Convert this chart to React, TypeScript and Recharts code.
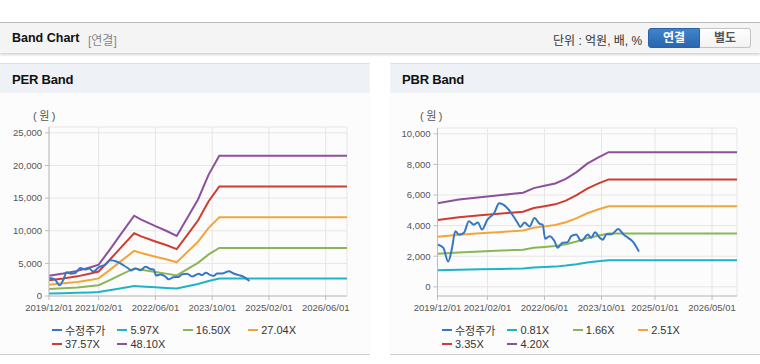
import React from "react";
import { LineChart, Line, XAxis, YAxis, CartesianGrid } from "recharts";

// months counted from 2019/12
const perBandMonths = [0, 4, 8, 12, 14, 17, 20, 24, 26, 30, 33, 36, 39, 42, 45, 48, 84];
const per597 = [380, 430, 480, 550, 600, 870, 1150, 1530, 1450, 1330, 1240, 1140, 1490, 1840, 2310, 2670, 2670];
const per1650 = [1060, 1180, 1320, 1530, 1650, 2400, 3190, 4220, 4010, 3670, 3430, 3160, 4120, 5080, 6380, 7370, 7370];
const per2704 = [1740, 1940, 2160, 2500, 2700, 3930, 5230, 6910, 6580, 6010, 5620, 5170, 6740, 8320, 10450, 12080, 12080];
const per3757 = [2420, 2690, 3010, 3480, 3750, 5470, 7260, 9610, 9140, 8360, 7810, 7190, 9370, 11560, 14530, 16790, 16790];
const per4810 = [3100, 3450, 3850, 4450, 4800, 7000, 9300, 12300, 11700, 10700, 10000, 9200, 12000, 14800, 18600, 21500, 21500];
const perBandNames = ["5.97X", "16.50X", "27.04X", "37.57X", "48.10X"];
const perTickMonths = [0, 14, 30, 46, 62, 78];
const perTickLabels = ["2019/12/01", "2021/02/01", "2022/06/01", "2023/10/01", "2025/02/01", "2026/06/01"];
const perYTicks = [0, 5000, 10000, 15000, 20000, 25000];

const pbrBandMonths = [0, 6, 12, 18, 24, 27, 30, 33, 36, 39, 42, 45, 48, 84];
const pbr081 = [1090, 1120, 1150, 1170, 1200, 1260, 1290, 1320, 1390, 1480, 1590, 1670, 1740, 1740];
const pbr166 = [2160, 2250, 2310, 2370, 2430, 2550, 2610, 2670, 2780, 2960, 3180, 3340, 3480, 3480];
const pbr251 = [3270, 3410, 3500, 3590, 3680, 3860, 3950, 4040, 4220, 4490, 4810, 5050, 5260, 5260];
const pbr335 = [4360, 4550, 4670, 4790, 4910, 5150, 5270, 5390, 5630, 5990, 6420, 6740, 7020, 7020];
const pbr420 = [5460, 5700, 5850, 6000, 6150, 6450, 6600, 6750, 7050, 7500, 8050, 8450, 8800, 8800];
const pbrBandNames = ["0.81X", "1.66X", "2.51X", "3.35X", "4.20X"];
const pbrTickMonths = [0, 14, 30, 46, 61, 77];
const pbrTickLabels = ["2019/12/01", "2021/02/01", "2022/06/01", "2023/10/01", "2025/01/01", "2026/05/01"];
const pbrYTicks = [0, 2000, 4000, 6000, 8000, 10000];

const priceMonths = [0, 1.6, 3, 4, 5, 6, 7.4, 8.8, 10.2, 11.3, 12.5, 14, 15.9, 17.3, 19.2, 21, 22.5, 23.2, 24.4, 25.8, 27.2, 28.6, 29.5, 30.2, 31.4, 32.8, 33.7, 35.1, 36.5, 37.5, 38.9, 40.3, 42.2, 43.1, 44.2, 45.5, 46.4, 47.4, 48.8, 50.7, 52.1, 53.5, 54.9, 56.5];
const priceValues = [2770, 2560, 1650, 2450, 3630, 3420, 3530, 4280, 4060, 4210, 3740, 4390, 4820, 5460, 5240, 4710, 4170, 3910, 4210, 3950, 4490, 4130, 4060, 3140, 3310, 2990, 2560, 2880, 2920, 3310, 3420, 2990, 3420, 3200, 3570, 3200, 3080, 3440, 3440, 3780, 3440, 3200, 2920, 2300];
const priceName = "수정주가";

const FONT = '"Liberation Sans", "Noto Sans CJK KR", sans-serif';
const PRICE_COLOR = "#3677c4";
const BAND_COLORS = ["#1fb3c8", "#8bb655", "#f3a53b", "#d03c30", "#8e509b"];

const toPoints = (months: number[], values: number[]) => months.map((m, i) => ({ m, v: values[i] }));

type PanelProps = {
  left: number;
  title: string;
  bandMonths: number[];
  bands: number[][];
  names: string[];
  tickMonths: number[];
  tickLabels: string[];
  yDomain: [number, number];
  yTicks: number[];
  marginLeft: number;
  marginTop: number;
  unitLeft: number;
};

function BandPanel(p: PanelProps) {
  const fmtX = (m: number) => p.tickLabels[p.tickMonths.indexOf(m)] ?? "";
  const fmtY = (v: number) => v.toLocaleString("en-US");
  const legend = [{ name: priceName, color: PRICE_COLOR }].concat(
    p.names.map((n, i) => ({ name: n, color: BAND_COLORS[i] }))
  );
  const tickStyle = { fill: "#555", fontSize: 9.5, fontFamily: FONT };
  return (
    <div
      style={{
        position: "absolute",
        left: p.left,
        top: 63,
        width: 370,
        height: 290,
        background: "#fcfcfd",
        borderTop: "1px solid #dedede",
        borderBottom: "1px solid #cfcfcf",
      }}
    >
      <div
        style={{
          height: 29,
          background: "#eef2f7",
          fontWeight: "bold",
          fontSize: 13,
          lineHeight: "31px",
          paddingLeft: 12,
          color: "#111",
          letterSpacing: -0.2,
        }}
      >
        {p.title}
      </div>
      <div style={{ position: "absolute", left: p.unitLeft, top: 45, fontSize: 11, lineHeight: "14px", color: "#555", letterSpacing: 2.5 }}>
        (원)
      </div>
      <div style={{ position: "absolute", left: 0, top: 36 }}>
        <LineChart
          width={370}
          height={216}
          margin={{ top: p.marginTop, right: 23, bottom: 0, left: p.marginLeft }}
        >
          <CartesianGrid stroke="#e6e6e6" />
          <XAxis
            dataKey="m"
            type="number"
            domain={[0, 84]}
            ticks={p.tickMonths}
            tickFormatter={fmtX}
            allowDataOverflow
            height={20}
            stroke="#bdbdbd"
            tickSize={4}
            tickMargin={4}
            tick={tickStyle}
            interval={0}
          />
          <XAxis xAxisId="top" orientation="top" type="number" domain={[0, 84]} height={0} tick={false} tickLine={false} stroke="#bdbdbd" />
          <YAxis
            type="number"
            domain={p.yDomain}
            ticks={p.yTicks}
            tickFormatter={fmtY}
            allowDataOverflow
            width={40}
            stroke="#bdbdbd"
            tickSize={4}
            tickMargin={3}
            tick={tickStyle}
            interval={0}
          />
          <YAxis yAxisId="right" orientation="right" width={0} tick={false} tickLine={false} stroke="#bdbdbd" />
          {p.bands.map((vals, i) => (
            <Line
              key={p.names[i]}
              data={toPoints(p.bandMonths, vals)}
              dataKey="v"
              type="linear"
              stroke={BAND_COLORS[i]}
              strokeWidth={2}
              dot={false}
              isAnimationActive={false}
            />
          ))}
          <Line
            data={toPoints(priceMonths, priceValues)}
            dataKey="v"
            type="monotone"
            stroke={PRICE_COLOR}
            strokeWidth={2}
            dot={false}
            isAnimationActive={false}
          />
        </LineChart>
      </div>
      <div style={{ position: "absolute", left: 52, top: 259, width: 270, display: "flex", flexWrap: "wrap" }}>
        {legend.map((it) => (
          <div key={it.name} style={{ width: 65.4, height: 14.3, display: "flex", alignItems: "center", fontSize: 11, color: "#333" }}>
            <span style={{ display: "inline-block", width: 10, height: 2, background: it.color, marginRight: 3 }} />
            <span>{it.name}</span>
          </div>
        ))}
      </div>
    </div>
  );
}

export default function App() {
  return (
    <div style={{ position: "absolute", left: 0, top: 0, width: 760, height: 364, background: "#fff", fontFamily: FONT, overflow: "hidden" }}>
      <div
        style={{
          position: "absolute",
          left: 0,
          top: 22,
          width: 760,
          height: 30,
          background: "#f4f4f4",
          borderTop: "1px solid #b9b9b9",
          boxShadow: "0 2px 2px rgba(0,0,0,0.16)",
        }}
      >
        <span style={{ position: "absolute", left: 12, top: 8, fontSize: 12.5, fontWeight: "bold", color: "#111" }}>Band Chart</span>
        <span style={{ position: "absolute", left: 88, top: 8, fontSize: 12, color: "#888" }}>[연결]</span>
        <span style={{ position: "absolute", left: 553, top: 8, fontSize: 12, color: "#333" }}>단위 : 억원, 배, %</span>
        <div
          style={{
            position: "absolute",
            left: 648,
            top: 5,
            width: 52,
            height: 20,
            boxSizing: "border-box",
            background: "linear-gradient(#3f84cb, #2a66ad)",
            border: "1px solid #2a62a5",
            borderRadius: "3px 0 0 3px",
            color: "#fff",
            fontWeight: "bold",
            fontSize: 12,
            textAlign: "center",
            lineHeight: "18px",
          }}
        >
          연결
        </div>
        <div
          style={{
            position: "absolute",
            left: 700,
            top: 5,
            width: 51,
            height: 20,
            boxSizing: "border-box",
            background: "linear-gradient(#ffffff, #f2f2f2)",
            border: "1px solid #c4c4c4",
            borderLeft: "none",
            borderRadius: "0 3px 3px 0",
            color: "#555",
            fontWeight: "bold",
            fontSize: 12,
            textAlign: "center",
            lineHeight: "18px",
          }}
        >
          별도
        </div>
      </div>
      <BandPanel
        left={0}
        title="PER Band"
        bandMonths={perBandMonths}
        bands={[per597, per1650, per2704, per3757, per4810]}
        names={perBandNames}
        tickMonths={perTickMonths}
        tickLabels={perTickLabels}
        yDomain={[0, 25900]}
        yTicks={perYTicks}
        marginLeft={9}
        marginTop={27}
        unitLeft={33}
      />
      <BandPanel
        left={390}
        title="PBR Band"
        bandMonths={pbrBandMonths}
        bands={[pbr081, pbr166, pbr251, pbr335, pbr420]}
        names={pbrBandNames}
        tickMonths={pbrTickMonths}
        tickLabels={pbrTickLabels}
        yDomain={[-600, 10380]}
        yTicks={pbrYTicks}
        marginLeft={7.5}
        marginTop={28}
        unitLeft={30}
      />
    </div>
  );
}
